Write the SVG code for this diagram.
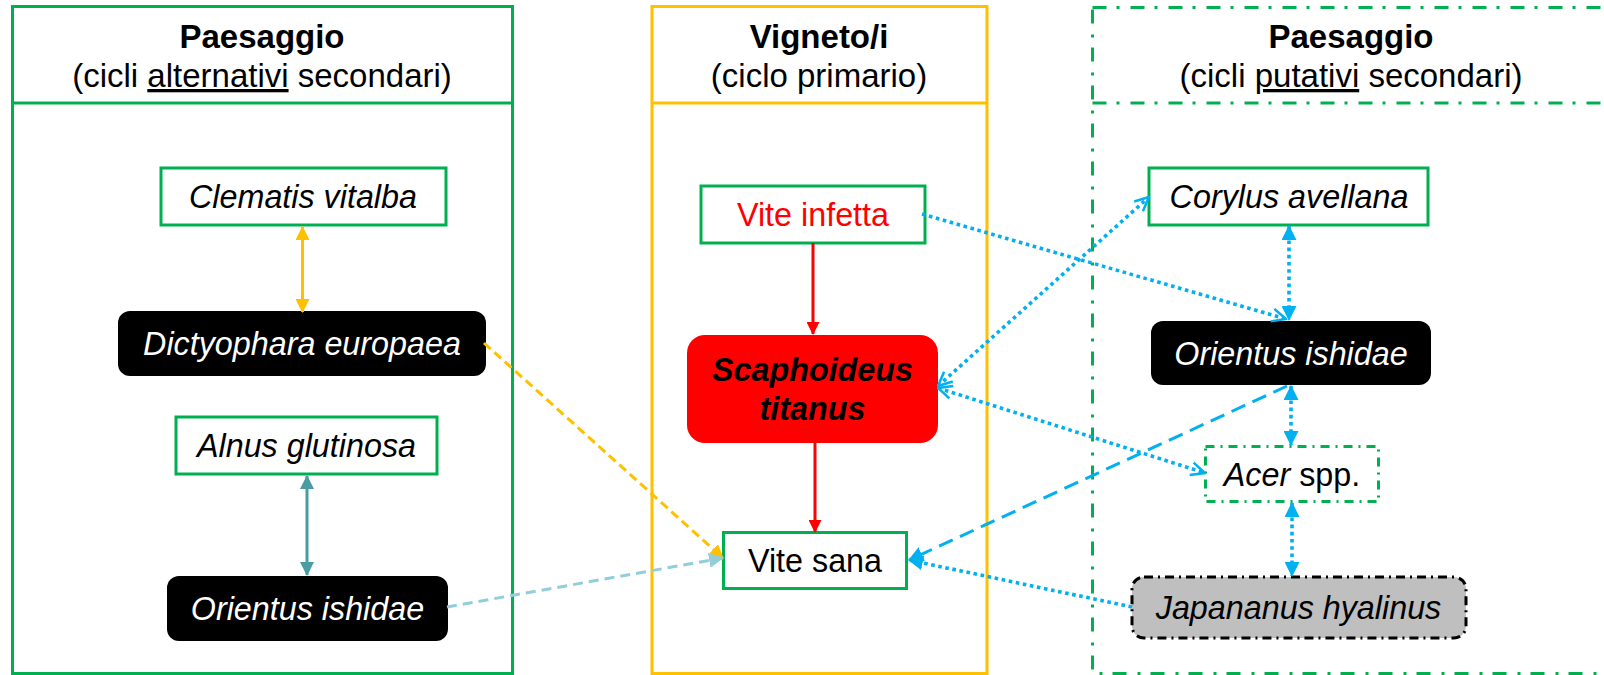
<svg xmlns="http://www.w3.org/2000/svg" width="1604" height="675" viewBox="0 0 1604 675">
<style>
text{font-family:"Liberation Sans",Arial,sans-serif;font-size:32.3px;text-anchor:middle}
.h{font-size:33px}
.b{font-weight:bold}
.i{font-style:italic}
.panel{fill:#fff;stroke-width:3}
.g{stroke:#00B050}
.y{stroke:#FFC000}
.dd{stroke-dasharray:14 10 3 11}
.node{fill:#fff;stroke:#00B050;stroke-width:3}
.blk{fill:#000}
.wt{fill:#fff}
.c{fill:none;stroke-width:3}
.dot{stroke:#00B0F0;stroke-width:3.6;stroke-dasharray:3.6 3.6}
</style>
<defs>
<marker id="aY" viewBox="0 0 14 14" refX="13" refY="7" markerWidth="14" markerHeight="14" markerUnits="userSpaceOnUse" orient="auto-start-reverse"><path d="M0,0 L14,7 L0,14 z" fill="#FFC000"/></marker>
<marker id="aT" viewBox="0 0 14 14" refX="13" refY="7" markerWidth="14" markerHeight="14" markerUnits="userSpaceOnUse" orient="auto-start-reverse"><path d="M0,0 L14,7 L0,14 z" fill="#4A9CA3"/></marker>
<marker id="aL" viewBox="0 0 14 14" refX="13" refY="7" markerWidth="15" markerHeight="15" markerUnits="userSpaceOnUse" orient="auto-start-reverse"><path d="M0,0 L14,7 L0,14 z" fill="#92CDDC"/></marker>
<marker id="aR" viewBox="0 0 14 14" refX="13" refY="7" markerWidth="13" markerHeight="13" markerUnits="userSpaceOnUse" orient="auto-start-reverse"><path d="M0,0 L14,7 L0,14 z" fill="#FF0000"/></marker>
<marker id="aB" viewBox="0 0 14 14" refX="13" refY="7" markerWidth="15" markerHeight="15" markerUnits="userSpaceOnUse" orient="auto-start-reverse"><path d="M0,0 L14,7 L0,14 z" fill="#00B0F0"/></marker>
<marker id="vB" viewBox="0 0 16 16" refX="15" refY="8" markerWidth="16" markerHeight="16" markerUnits="userSpaceOnUse" orient="auto-start-reverse"><path d="M1,1.5 L15,8 L1,14.5" fill="none" stroke="#00B0F0" stroke-width="2.5"/></marker>
</defs>

<g id="panel-left">
<rect class="panel g" x="12.5" y="6.5" width="500" height="667"/>
<line class="g" x1="12.5" y1="103" x2="512.5" y2="103" stroke-width="3"/>
<text class="b h" x="262" y="48">Paesaggio</text>
<text class="h" x="262" y="87">(cicli <tspan text-decoration="underline">alternativi</tspan> secondari)</text>
</g>
<g id="panel-middle">
<rect class="panel y" x="652" y="6.5" width="335" height="667"/>
<line class="y" x1="652" y1="103" x2="987" y2="103" stroke-width="3"/>
<text class="b h" x="819" y="48">Vigneto/i</text>
<text class="h" x="819" y="87">(ciclo primario)</text>
</g>
<g id="panel-right">
<rect class="panel g dd" x="1092.5" y="7.5" width="520" height="666"/>
<line class="g dd" x1="1092.5" y1="103" x2="1612" y2="103" stroke-width="3"/>
<text class="b h" x="1351" y="48">Paesaggio</text>
<text class="h" x="1351" y="87">(cicli <tspan text-decoration="underline">putativi</tspan> secondari)</text>
</g>

<g id="n-clematis"><rect class="node" x="161" y="168" width="285" height="57"/><text class="i" x="303" y="208">Clematis vitalba</text></g>
<g id="n-dictyophara"><rect class="blk" x="118" y="311" width="368" height="65" rx="12"/><text class="i wt" x="302" y="355">Dictyophara europaea</text></g>
<g id="n-alnus"><rect class="node" x="176" y="417" width="261" height="57"/><text class="i" x="306.5" y="457">Alnus glutinosa</text></g>
<g id="n-orientus-left"><rect class="blk" x="167" y="576" width="281" height="65" rx="12"/><text class="i wt" x="307.5" y="620">Orientus ishidae</text></g>

<g id="n-vite-infetta"><rect class="node" x="701" y="186" width="224" height="57"/><text x="813" y="226" fill="#FF0000">Vite infetta</text></g>
<g id="n-scaphoideus"><rect x="687" y="335" width="251" height="108" rx="18" fill="#FF0000"/><text class="b i" x="812.5" y="381">Scaphoideus</text><text class="b i" x="812.5" y="420">titanus</text></g>
<g id="n-vite-sana"><rect class="node" x="723.5" y="532.5" width="183" height="56"/><text x="815" y="572">Vite sana</text></g>

<g id="n-corylus"><rect class="node" x="1149" y="168" width="279" height="57"/><text class="i" x="1289" y="208">Corylus avellana</text></g>
<g id="n-orientus-right"><rect class="blk" x="1151" y="321" width="280" height="64" rx="12"/><text class="i wt" x="1291" y="364.5">Orientus ishidae</text></g>
<g id="n-acer"><rect x="1205.5" y="446.5" width="173" height="55" fill="#fff" stroke="#00B050" stroke-width="3" stroke-dasharray="9 6 2 6"/><text x="1292" y="485.5"><tspan class="i">Acer</tspan> spp.</text></g>
<g id="n-japananus"><rect x="1132" y="577" width="334" height="61" rx="12" fill="#BFBFBF" stroke="#000" stroke-width="3" stroke-dasharray="9 5 2 5"/><text class="i" x="1298.5" y="619">Japananus hyalinus</text></g>

<g id="connectors">
<line class="c" x1="302.5" y1="227" x2="302.5" y2="312" stroke="#FFC000" marker-start="url(#aY)" marker-end="url(#aY)"/>
<line class="c" x1="307" y1="476" x2="307" y2="575" stroke="#4A9CA3" marker-start="url(#aT)" marker-end="url(#aT)"/>
<line class="c" x1="813" y1="243" x2="813" y2="334" stroke="#FF0000" marker-end="url(#aR)"/>
<line class="c" x1="815" y1="443" x2="815" y2="532" stroke="#FF0000" marker-end="url(#aR)"/>
<line class="c dot" x1="1289" y1="226" x2="1289" y2="320" marker-start="url(#aB)" marker-end="url(#aB)"/>
<line class="c dot" x1="1291" y1="386" x2="1291" y2="445" marker-start="url(#aB)" marker-end="url(#aB)"/>
<line class="c dot" x1="1292" y1="503" x2="1292" y2="576" marker-start="url(#aB)" marker-end="url(#aB)"/>
<line class="c dot" x1="922" y1="214" x2="1286" y2="319" marker-end="url(#vB)"/>
<line class="c dot" x1="938" y1="386" x2="1149" y2="197" marker-start="url(#vB)" marker-end="url(#vB)"/>
<line class="c dot" x1="938" y1="388" x2="1205" y2="473" marker-start="url(#vB)" marker-end="url(#vB)"/>
<line class="c" x1="1287" y1="386" x2="909" y2="560" stroke="#00B0F0" stroke-dasharray="15 8" marker-end="url(#aB)"/>
<line class="c dot" x1="1132" y1="607" x2="909" y2="560" marker-end="url(#aB)"/>
<line class="c" x1="484" y1="343" x2="723" y2="558" stroke="#FFC000" stroke-dasharray="9 5" marker-end="url(#aY)"/>
<line class="c" x1="447" y1="607" x2="723" y2="558" stroke="#92CDDC" stroke-dasharray="10 6" marker-end="url(#aL)"/>
</g>
</svg>
